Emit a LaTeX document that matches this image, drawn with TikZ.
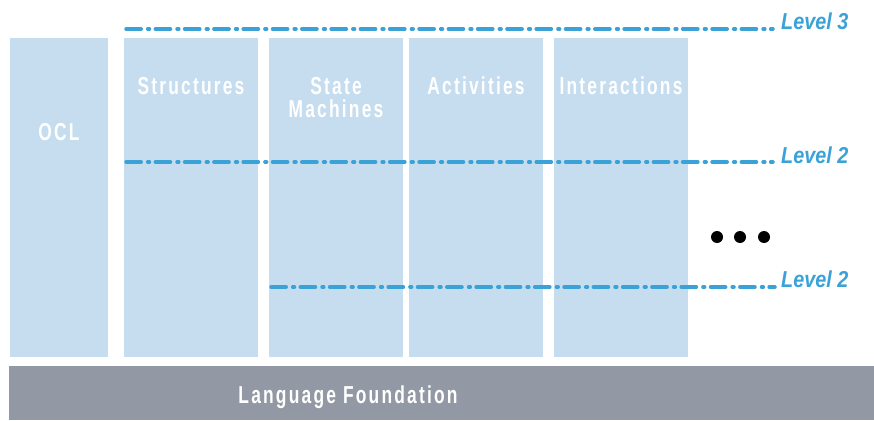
\documentclass[tikz,border=0pt]{standalone}
\usepackage{fontspec}
\setmainfont{Liberation Sans}
\newfontfamily\boxfont[FakeStretch=0.71,LetterSpace=9]{Liberation Sans}
\newfontfamily\lvlfont[FakeStretch=0.86]{Liberation Sans}
\definecolor{boxblue}{HTML}{C5DDEF}
\definecolor{bargray}{HTML}{9298A4}
\definecolor{lineblue}{HTML}{3BA2D7}
\begin{document}
\begin{tikzpicture}[x=1pt,y=-1pt,
  col/.style={fill=boxblue, draw=none, anchor=north west, inner sep=0pt, minimum height=319pt},
  boxtext/.style={text=white, anchor=base, inner sep=0pt, font=\boxfont\bfseries\fontsize{24.5}{24.5}\selectfont},
  levelline/.style={draw=lineblue, line width=3.5pt, line cap=round, dash pattern=on 15.2pt off 6.5pt on 1.8pt off 5.8pt},
  lvltext/.style={text=lineblue, anchor=base west, inner sep=0pt, font=\lvlfont\bfseries\itshape\fontsize{23}{23}\selectfont},
  bigdot/.style={circle, fill=black, draw=none, minimum size=12pt, inner sep=0pt}]
\useasboundingbox (0,0) rectangle (874,420);
% columns
\node[col, minimum width=98pt] (ocl) at (10,38) {};
\node[col, minimum width=134pt] (str) at (124,38) {};
\node[col, minimum width=134pt] (sm) at (269,38) {};
\node[col, minimum width=134pt] (act) at (409,38) {};
\node[col, minimum width=134pt] (int) at (554,38) {};
% foundation bar
\node[fill=bargray, draw=none, anchor=north west, inner sep=0pt, minimum width=865pt, minimum height=54pt] (lf) at (9,366) {};
% texts
\node[boxtext] (ocltxt) at (59,140.5) {OCL};
\node[boxtext] (strtxt) at (191,94) {Structures};
\node[boxtext] (smtxt1) at (336,94) {State};
\node[boxtext] (smtxt2) at (336,117) {Machines};
\node[boxtext] (acttxt) at (476,94) {Activities};
\node[boxtext] (inttxt) at (621,94) {Interactions};
\node[boxtext] (lftxt) at (348,403) {Language Foundation};
% level lines
\coordinate (l3s) at (126,29);
\coordinate (l3e) at (773,29);
\coordinate (l2as) at (126,162);
\coordinate (l2ae) at (773,162);
\coordinate (l2bs) at (271,287);
\coordinate (l2be) at (775,287);
\draw[levelline] (l3s) -- (l3e);
\draw[levelline] (l2as) -- (l2ae);
\draw[levelline] (l2bs) -- (l2be);
\node[lvltext] (lv3) at (781,30) {Level 3};
\node[lvltext] (lv2a) at (781,163) {Level 2};
\node[lvltext] (lv2b) at (781,287) {Level 2};
% dots
\node[bigdot] (d1) at (717,237) {};
\node[bigdot] (d2) at (740,237) {};
\node[bigdot] (d3) at (764,237) {};
\end{tikzpicture}
\end{document}
